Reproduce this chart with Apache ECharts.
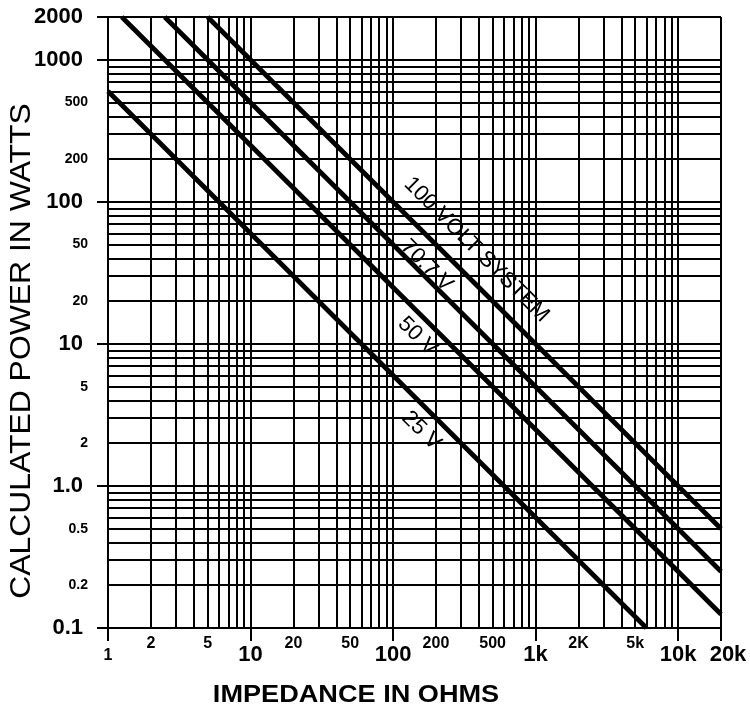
<!DOCTYPE html>
<html>
<head>
<meta charset="utf-8">
<script src="https://cdn.jsdelivr.net/npm/echarts@6/dist/echarts.min.js"></script>
<style>
html,body{margin:0;padding:0;background:#fff;}
#chart{width:750px;height:721px;}
</style>
</head>
<body>
<div id="chart"></div>
<script>
// Lines of constant voltage: [impedance (ohms), power (watts)] endpoints
const volt100 = [[5, 2000], [20000, 0.5]];
const volt707 = [[2.5, 2000], [20000, 0.25]];
const volt50 = [[1.25, 2000], [20000, 0.125]];
const volt25 = [[1, 600], [6000, 0.1]];

// Line labels: [impedance, power] position and text
const lineLabelPos = [[385, 46], [172, 35.5], [148, 11.3], [158, 2.45]];
const lineLabelText = ['100 VOLT SYSTEM', '70.7 V', '50 V', '25 V'];

// Grid lines of the log-log paper
const xGridValues = [2,3,4,5,6,7,8,9,10,20,30,40,50,60,70,80,90,100,200,300,400,500,600,700,800,900,
  1000,2000,3000,4000,5000,6000,7000,8000,9000,10000,20000];
const yGridValues = [0.2,0.3,0.4,0.5,0.6,0.7,0.8,0.9,1,2,3,4,5,6,7,8,9,10,20,30,40,50,60,70,80,90,
  100,200,300,400,500,600,700,800,900,1000,2000];

// Tick labels
const xMajorValues = [1, 10, 100, 1000, 10000, 20000];
const xMajorText = ['1', '10', '100', '1k', '10k', '20k'];
const xMinorValues = [2, 5, 20, 50, 200, 500, 2000, 5000];
const xMinorText = ['2', '5', '20', '50', '200', '500', '2K', '5k'];
const yMajorValues = [0.1, 1, 10, 100, 1000, 2000];
const yMajorText = ['0.1', '1.0', '10', '100', '1000', '2000'];
const yMinorValues = [0.2, 0.5, 2, 5, 20, 50, 200, 500];
const yMinorText = ['0.2', '0.5', '2', '5', '20', '50', '200', '500'];

const FONT = '"Liberation Sans", Arial, Helvetica, sans-serif';

function lookup(values, texts, v) {
  for (let i = 0; i < values.length; i++) {
    if (Math.abs(values[i] - v) / values[i] < 1e-6) return texts[i];
  }
  return '';
}

const gridMarkData = [];
xGridValues.forEach(v => {
  const idx = xMinorValues.indexOf(v);
  const item = { xAxis: v };
  if (idx >= 0) {
    item.label = { show: true, position: 'start', distance: 8, formatter: xMinorText[idx],
      fontSize: 16, fontWeight: 'bold', color: '#000', fontFamily: FONT };
  }
  gridMarkData.push(item);
});
yGridValues.forEach(v => {
  const idx = yMinorValues.indexOf(v);
  const item = { yAxis: v };
  if (idx >= 0) {
    item.label = { show: true, position: 'start', distance: 20, formatter: yMinorText[idx],
      fontSize: 14, fontWeight: 'bold', color: '#000', fontFamily: FONT };
  }
  gridMarkData.push(item);
});

const chart = echarts.init(document.getElementById('chart'), null, { renderer: 'canvas' });

function lineSeries(name, data, labelIdx, withGrid) {
  const s = {
    name: name,
    type: 'line',
    data: data,
    symbol: 'none',
    silent: true,
    animation: false,
    z: 3,
    lineStyle: { color: '#000', width: 4.8 },
    markPoint: {
      silent: true,
      animation: false,
      symbol: 'circle',
      symbolSize: 0,
      itemStyle: { color: 'rgba(0,0,0,0)' },
      label: {
        show: true, position: 'inside', rotate: -45, color: '#000',
        fontSize: 22, fontFamily: FONT, fontWeight: 'normal',
        formatter: lineLabelText[labelIdx]
      },
      data: [{ coord: lineLabelPos[labelIdx] }]
    }
  };
  if (withGrid) {
    s.markLine = {
      silent: true,
      animation: false,
      z: 1,
      symbol: ['none', 'none'],
      lineStyle: { color: '#000', width: 2, type: 'solid' },
      label: { show: false },
      emphasis: { disabled: true },
      data: gridMarkData
    };
  }
  return s;
}

const option = {
  backgroundColor: '#fff',
  animation: false,
  grid: { left: 108, right: 29, top: 17, bottom: 93, containLabel: false },
  xAxis: {
    type: 'log',
    logBase: 10,
    min: 1,
    max: 20000,
    axisLine: { show: true, lineStyle: { color: '#000', width: 2 } },
    axisTick: { show: true, length: 13, lineStyle: { color: '#000', width: 2 } },
    splitLine: { show: false },
    minorTick: { show: false },
    axisLabel: {
      show: true, margin: 16, color: '#000', showMinLabel: true, showMaxLabel: true,
      formatter: function (v) {
        const t = lookup(xMajorValues, xMajorText, v);
        if (v < 1.5) return '{one|' + t + '}';
        if (v > 15000) return '{last|' + t + '}';
        return '{big|' + t + '}';
      },
      rich: {
        big: { fontSize: 22, fontWeight: 'bold', fontFamily: FONT, color: '#000' },
        last: { fontSize: 22, fontWeight: 'bold', fontFamily: FONT, color: '#000', padding: [0, 0, 0, 14] },
        one: { fontSize: 16, fontWeight: 'bold', fontFamily: FONT, color: '#000', padding: [4, 0, 0, 0] }
      }
    }
  },
  yAxis: {
    type: 'log',
    logBase: 10,
    min: 0.1,
    max: 2000,
    axisLine: { show: true, lineStyle: { color: '#000', width: 2 } },
    axisTick: { show: true, length: 11, lineStyle: { color: '#000', width: 2 } },
    splitLine: { show: false },
    minorTick: { show: false },
    axisLabel: {
      show: true, margin: 25, color: '#000', showMinLabel: true, showMaxLabel: true,
      fontSize: 22, fontWeight: 'bold', fontFamily: FONT,
      formatter: function (v) { return lookup(yMajorValues, yMajorText, v); }
    }
  },
  graphic: [
    { type: 'text', x: 22, y: 351, rotation: Math.PI / 2, scaleX: 1.1, silent: true,
      style: { text: 'CALCULATED POWER IN WATTS', fontSize: 29, fontFamily: FONT, fontWeight: 'normal',
        fill: '#000', align: 'center', verticalAlign: 'middle' } },
    { type: 'text', x: 356, y: 695, scaleX: 1.13, silent: true,
      style: { text: 'IMPEDANCE IN OHMS', fontSize: 24, fontFamily: FONT, fontWeight: 'bold',
        fill: '#000', align: 'center', verticalAlign: 'middle' } }
  ],
  series: [
    lineSeries('100 V', volt100, 0, true),
    lineSeries('70.7 V', volt707, 1, false),
    lineSeries('50 V', volt50, 2, false),
    lineSeries('25 V', volt25, 3, false)
  ]
};
chart.setOption(option);
</script>
</body>
</html>
